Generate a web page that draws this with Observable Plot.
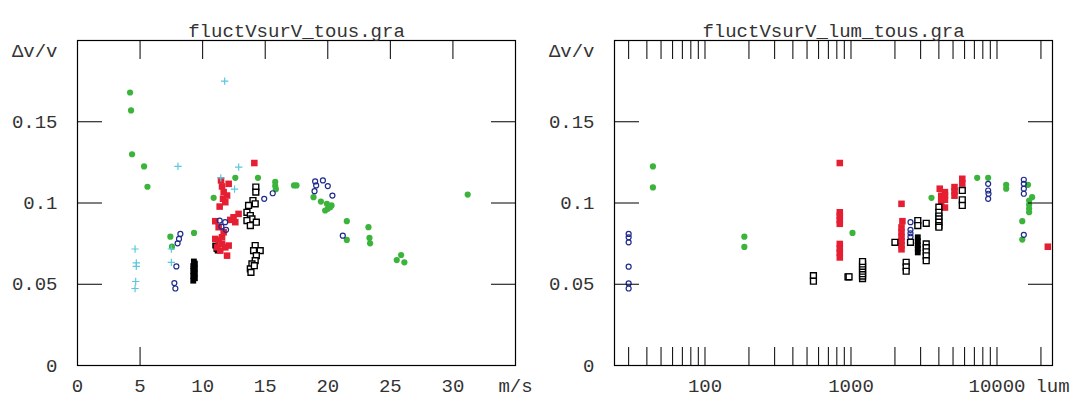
<!DOCTYPE html>
<html>
<head>
<meta charset="utf-8">
<script src="https://cdn.jsdelivr.net/npm/d3@7"></script>
<script src="https://cdn.jsdelivr.net/npm/@observablehq/plot@0.6"></script>
<style>
  html, body { margin: 0; padding: 0; background: #fff; }
  #wrap { display: flex; flex-direction: row; width: 1077px; height: 397px; }
  svg { display: block; }
</style>
</head>
<body>
<div id="wrap"></div>
<script>
// ---------- titles & tick labels ----------
const titleSpeed = "fluctVsurV_tous.gra";
const titleLum = "fluctVsurV_lum_tous.gra";
const yLabel = "Δv/v";
const yTickValues = [0, 0.05, 0.1, 0.15];
const yTickLabels = ["0", "0.05", "0.1", "0.15"];
const yInnerTicks = [0.05, 0.1, 0.15];
const speedTickValues = [0, 5, 10, 15, 20, 25, 30, 35];
const speedTickLabels = ["0", "5", "10", "15", "20", "25", "30", "m/s"];
const speedTopTicks = [5, 10, 15, 20, 25, 30];
const speedBottomTicks = [5];
const lumTickValues = [100, 1000, 10000];
const lumTickLabels = ["100", "1000", "10000"];
const lumUnit = "lum";
const lumMinorTicks = [30, 40, 50, 60, 70, 80, 90, 100, 200, 300, 400, 500, 600, 700, 800, 900,
  1000, 2000, 3000, 4000, 5000, 6000, 7000, 8000, 9000, 10000, 20000];

// ---------- left panel: Δv/v vs speed (m/s) ----------
const greenV  = [4.2, 4.28, 4.36, 5.32, 5.59, 7.42, 7.55, 9.31, 10.88, 12.61, 14.42, 15.8, 15.8, 15.85, 17.3, 17.5,
  18.86, 19.45, 19.93, 20.19, 19.79, 20.0, 20.3, 21.52, 21.52, 23.25, 23.33, 23.38, 25.51, 25.86, 26.12, 31.18];
const greenDv = [0.168, 0.157, 0.130, 0.1225, 0.110, 0.0793, 0.0731, 0.0816, 0.1032, 0.1155, 0.1155, 0.113, 0.1105, 0.1085, 0.1108, 0.1108,
  0.1036, 0.1009, 0.0995, 0.0974, 0.0954, 0.0964, 0.0985, 0.0888, 0.0773, 0.0851, 0.0785, 0.0752, 0.0649, 0.068, 0.0635, 0.1052];

const cyanV  = [4.6, 4.7, 4.7, 4.65, 4.6, 8.03, 7.5, 7.5, 11.76, 12.88, 11.45, 12.55];
const cyanDv = [0.0717, 0.0631, 0.061, 0.0517, 0.0474, 0.1225, 0.0717, 0.0635, 0.175, 0.1221, 0.1155, 0.1085];

const blueV  = [8.22, 8.11, 8.0, 7.9, 7.74, 7.82, 11.36, 11.8, 11.87, 11.5, 14.92, 15.6,
  18.99, 19.07, 18.94, 19.61, 20.0, 20.37, 21.2];
const blueDv = [0.081, 0.0779, 0.0752, 0.061, 0.0507, 0.0474, 0.0892, 0.0882, 0.0835, 0.0855, 0.1026, 0.106,
  0.1133, 0.1108, 0.1073, 0.1139, 0.1104, 0.1046, 0.0799];

const redV  = [14.13, 11.47, 11.55, 12.08, 11.68, 11.95, 11.63, 11.36, 11.81, 12.21, 12.47, 12.87, 12.61, 11.01,
  11.01, 11.28, 11.55, 11.81, 12.08, 11.95, 11.41, 11.15, 11.55, 11.68, 11.28];
const redDv = [0.1246, 0.1139, 0.1102, 0.1118, 0.1067, 0.1046, 0.1026, 0.0978, 0.1005, 0.0896, 0.0912, 0.0933, 0.0882, 0.0888,
  0.0779, 0.0769, 0.0748, 0.0727, 0.0738, 0.0676, 0.0707, 0.0727, 0.0789, 0.082, 0.0851];

const blackOpenV  = [14.25, 14.25, 14.02, 14.2, 13.67, 13.54, 13.81, 13.94, 13.54, 14.29, 13.81,
  14.2, 14.07, 14.6, 14.29, 14.2, 13.94, 13.81, 13.86, 14.13];
const blackOpenDv = [0.1098, 0.1067, 0.1015, 0.0995, 0.0985, 0.0943, 0.0923, 0.0902, 0.0892, 0.0882, 0.0861,
  0.0738, 0.0707, 0.0707, 0.0676, 0.0645, 0.0625, 0.0594, 0.0573, 0.0614];

const blackDenseV  = [9.25, 9.38, 9.25, 9.38, 9.25, 9.38, 9.25, 9.38, 9.3, 11.0, 11.1, 11.2];
const blackDenseDv = [0.0522, 0.0537, 0.0552, 0.0567, 0.0582, 0.0597, 0.0612, 0.0627, 0.064, 0.0738, 0.0717, 0.0707];

// ---------- right panel: Δv/v vs luminosity (lum) ----------
const greenLum   = [44, 44, 186, 186, 1024, 3560, 7318, 8700, 11560, 11560, 16300, 17400, 16600, 16600, 16600, 16600, 14900, 14900];
const greenLumDv = [0.1225, 0.1096, 0.0793, 0.073, 0.0816, 0.1032, 0.1155, 0.1155, 0.1112, 0.1088, 0.1112, 0.1036, 0.1015, 0.099, 0.0965, 0.0943, 0.0888, 0.0775];

const blueLum   = [30, 30, 30, 30, 30, 30, 2556, 2556, 2556, 2556, 8700, 8700, 8750, 8700, 15270, 15270, 15270, 15270, 15270];
const blueLumDv = [0.081, 0.0789, 0.0758, 0.0608, 0.0505, 0.0474, 0.0882, 0.0835, 0.0814, 0.0793, 0.1118, 0.1077, 0.1057, 0.1026, 0.1143, 0.1118, 0.1088, 0.1057, 0.0804];

const redLum   = [838, 838, 838, 838, 838, 838, 838, 838, 838,
  2218, 2250, 2218, 2218, 2218, 2218, 2218, 2218,
  4055, 4150, 4150, 4150, 4400, 4400, 4400, 4400,
  5117, 5117, 5117, 5785, 5785, 22300];
const redLumDv = [0.1246, 0.0943, 0.092, 0.0895, 0.0872, 0.0748, 0.072, 0.0695, 0.0665,
  0.0995, 0.0888, 0.085, 0.082, 0.079, 0.0765, 0.074, 0.0715,
  0.1088, 0.1045, 0.102, 0.0995, 0.1067, 0.1045, 0.102, 0.0972,
  0.1098, 0.1072, 0.1045, 0.1149, 0.112, 0.0731];

const blackLum   = [553, 553, 954, 970, 1200, 1200, 1200, 1200, 1200, 1200, 1200, 1200,
  2000, 2388, 2388, 2388, 2556, 2868, 2868, 3276, 3276, 3276, 3276, 3276, 3276,
  4000, 4000, 4000, 4000, 4000, 4000, 4000, 5785, 5785, 5785];
const blackLumDv = [0.0553, 0.0519, 0.0546, 0.0546, 0.0535, 0.055, 0.0565, 0.058, 0.0595, 0.061, 0.0625, 0.064,
  0.0758, 0.0635, 0.0607, 0.058, 0.0758, 0.0892, 0.0861, 0.0875, 0.0748, 0.0725, 0.07, 0.0675, 0.0645,
  0.0974, 0.0943, 0.092, 0.0902, 0.0882, 0.0861, 0.0851, 0.1077, 0.102, 0.0985];

const blackDenseLum   = [2868, 2868, 2868, 2868, 2868];
const blackDenseLumDv = [0.0789, 0.0765, 0.074, 0.072, 0.0696];

// ---------- helpers ----------
const pts = (xs, ys) => xs.map((x, i) => ({x, y: ys[i]}));
const COL = {green: "#3cb43c", red: "#e61e32", blue: "#1e2a8c", cyan: "#5cc8dc", black: "#000"};
const FONT = "Liberation Mono";
const TXT = "#333";

function seriesMarks(s) {
  return [
    Plot.dot(pts(s.blackDense[0], s.blackDense[1]), {x: "x", y: "y", symbol: "square", r: 3.3, fill: COL.black}),
    Plot.dot(pts(s.red[0], s.red[1]), {x: "x", y: "y", symbol: "square", r: 3.7, fill: COL.red}),
    Plot.dot(pts(s.green[0], s.green[1]), {x: "x", y: "y", r: 3.1, fill: COL.green}),
    Plot.dot(pts(s.blue[0], s.blue[1]), {x: "x", y: "y", r: 2.5, stroke: COL.blue, strokeWidth: 1.2, fill: "none"}),
    s.cyan ? Plot.dot(pts(s.cyan[0], s.cyan[1]), {x: "x", y: "y", symbol: "plus", r: 2.5, stroke: COL.cyan, strokeWidth: 1.2}) : null,
    Plot.dot(pts(s.black[0], s.black[1]), {x: "x", y: "y", symbol: "square", r: 3.3, stroke: COL.black, strokeWidth: 1.4, fill: "white"})
  ];
}

function commonMarks(title) {
  return [
    Plot.frame({stroke: "#000", strokeWidth: 1.2}),
    Plot.axisY(yInnerTicks, {anchor: "left", tickSize: 25, dx: 25, fill: "none", stroke: "#000", label: null}),
    Plot.axisY(yInnerTicks, {anchor: "right", tickSize: 25, dx: -25, fill: "none", stroke: "#000", label: null}),
    Plot.axisY(yTickValues, {anchor: "left", tickSize: 0, tickPadding: 20, label: null, fill: TXT,
      tickFormat: (d) => yTickLabels[yTickValues.indexOf(d)]}),
    Plot.text([yLabel], {frameAnchor: "top-left", dx: -20, dy: 3, textAnchor: "end", fill: TXT, fontSize: 19}),
    Plot.text([title], {frameAnchor: "top", dy: -17, fill: TXT, fontSize: 19})
  ];
}

const baseStyle = {fontFamily: FONT, fontSize: "19px", background: "white", color: "#222", overflow: "visible"};

const left = Plot.plot({
  width: 537, height: 397,
  marginLeft: 77, marginRight: 22, marginTop: 40, marginBottom: 32,
  style: baseStyle,
  x: {domain: [0, 35]},
  y: {domain: [0, 0.2]},
  marks: [
    ...seriesMarks({
      blackDense: [blackDenseV, blackDenseDv], red: [redV, redDv], green: [greenV, greenDv],
      blue: [blueV, blueDv], cyan: [cyanV, cyanDv], black: [blackOpenV, blackOpenDv]
    }),
    Plot.axisX(speedTopTicks, {anchor: "top", tickSize: 18, dy: 18, fill: "none", stroke: "#000", label: null}),
    Plot.axisX(speedBottomTicks, {anchor: "bottom", tickSize: 18, dy: -18, fill: "none", stroke: "#000", label: null}),
    Plot.axisX(speedTickValues, {anchor: "bottom", tickSize: 0, tickPadding: 13, label: null, fill: TXT,
      tickFormat: (d) => speedTickLabels[speedTickValues.indexOf(d)]}),
    ...commonMarks(titleSpeed)
  ]
});

const right = Plot.plot({
  width: 540, height: 397,
  marginLeft: 77, marginRight: 25, marginTop: 40, marginBottom: 32,
  style: baseStyle,
  x: {type: "log", domain: [24, 24000]},
  y: {domain: [0, 0.2]},
  marks: [
    ...seriesMarks({
      blackDense: [blackDenseLum, blackDenseLumDv], red: [redLum, redLumDv], green: [greenLum, greenLumDv],
      blue: [blueLum, blueLumDv], cyan: null, black: [blackLum, blackLumDv]
    }),
    Plot.axisX(lumMinorTicks, {anchor: "top", tickSize: 18, dy: 18, fill: "none", stroke: "#000", label: null}),
    Plot.axisX(lumMinorTicks, {anchor: "bottom", tickSize: 18, dy: -18, fill: "none", stroke: "#000", label: null}),
    Plot.axisX(lumTickValues, {anchor: "bottom", tickSize: 0, tickPadding: 13, label: null, fill: TXT,
      tickFormat: (d) => lumTickLabels[lumTickValues.indexOf(d)]}),
    Plot.text([lumUnit], {frameAnchor: "bottom-right", dy: 13, lineAnchor: "top", fill: TXT, fontSize: 19, textAnchor: "middle"}),
    ...commonMarks(titleLum)
  ]
});

document.getElementById("wrap").append(left, right);
</script>
</body>
</html>
